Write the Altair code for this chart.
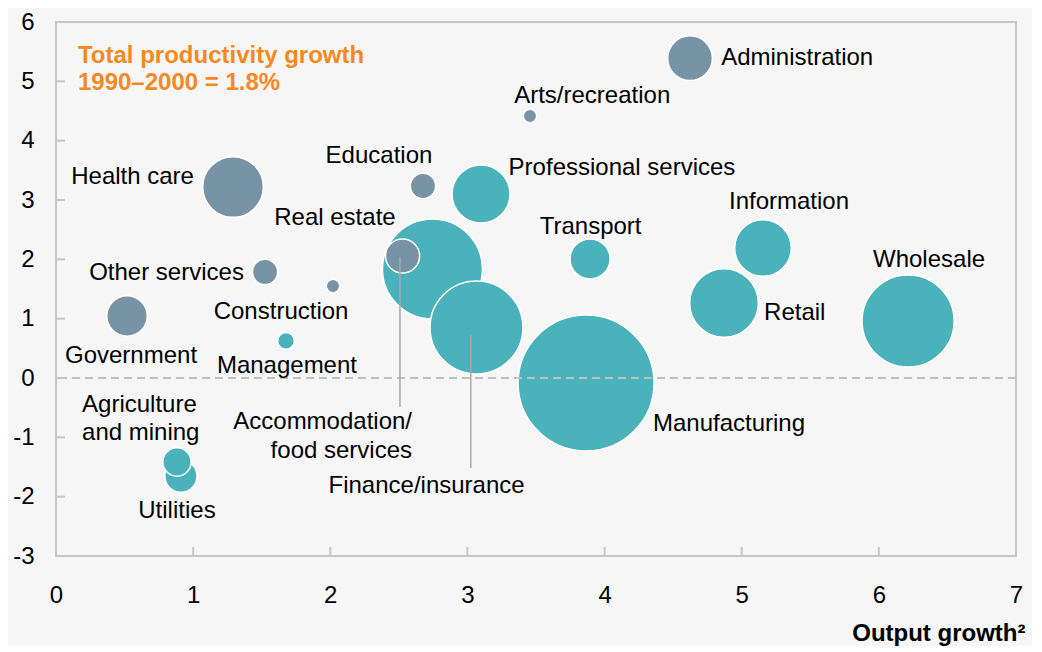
import altair as alt
import pandas as pd

# ---- data ----
sectors = ["Accommodation/food services", "Real estate", "Finance/insurance", "Manufacturing",
           "Wholesale", "Retail", "Information", "Transport", "Professional services",
           "Health care", "Administration", "Government", "Education", "Other services",
           "Arts/recreation", "Construction", "Management", "Utilities", "Agriculture and mining"]
output_growth = [2.745, 2.527, 3.066, 3.865, 6.213, 4.871, 5.155, 3.894, 3.099,
                 1.291, 4.623, 0.518, 2.676, 1.524, 3.456, 2.02, 1.677, 0.911, 0.882]
productivity_growth = [1.837, 2.056, 0.851, -0.084, 0.961, 1.264, 2.19, 2.006, 3.101,
                       3.219, 5.39, 1.045, 3.236, 1.787, 4.416, 1.55, 0.624, -1.652, -1.416]
bubble_weight = [25.0, 2.9, 21.6, 46.2, 21.2, 11.8, 8.0, 4.0, 8.4,
                 9.2, 5.0, 4.1, 1.6, 1.6, 0.45, 0.45, 0.7, 2.6, 2.0]
sector_group = ["teal", "slate", "teal", "teal", "teal", "teal", "teal", "teal", "teal",
                "slate", "slate", "slate", "slate", "slate", "slate", "slate", "teal", "teal", "teal"]

# label anchors (data units, first line of text) and alignment
label_text = ["Administration", "Arts/recreation", "Education", "Health care", "Professional services",
              "Real estate", "Transport", "Information", "Wholesale", "Other services",
              "Construction", "Retail", "Government", "Management", "Manufacturing",
              "Agriculture\nand mining", "Accommodation/\nfood services", "Finance/insurance", "Utilities"]
label_x = [4.85, 3.91, 2.355, 1.006, 4.127, 2.034, 3.898, 5.345, 6.366, 0.806,
           1.641, 5.163, 0.547, 1.684, 4.353, 0.19, 2.596, 2.702, 0.882]
label_y = [5.39, 4.75, 3.74, 3.38, 3.54, 2.70, 2.545, 2.965, 1.99, 1.77,
           1.11, 1.095, 0.37, 0.20, -0.775, -0.455, -0.742, -1.82, -2.24]
label_align = ["left", "center", "center", "right", "center", "center", "center", "center",
               "center", "center", "center", "left", "center", "center", "left", "left",
               "right", "center", "center"]

leader_x = [2.508, 3.024]
leader_top = [2.04, 0.725]
leader_bottom = [-0.49, -1.517]

x_ticks = [0, 1, 2, 3, 4, 5, 6, 7]
y_ticks = [-3, -2, -1, 0, 1, 2, 3, 4, 5, 6]
inner_x_ticks = [1, 2, 3, 4, 5, 6]
inner_y_ticks = [-2, -1, 0, 1, 2, 3, 4, 5]

note_text = ["Total productivity growth\n1990–2000 = 1.8%"]
note_x = [0.16]
note_y = [5.43]

TEAL = "#4ab2bb"
SLATE = "#7893a5"
ORANGE = "#f5891f"
GREY = "#c6c6c6"
FONT = "Liberation Sans"

bubbles_df = pd.DataFrame({
    "sector": sectors, "output": output_growth, "prod": productivity_growth,
    "weight": bubble_weight, "group": sector_group, "draw": list(range(len(sectors)))
})
labels_df = pd.DataFrame({"label": label_text, "lx": label_x, "ly": label_y, "align": label_align})
leaders_df = pd.DataFrame({"x": leader_x, "y1": leader_top, "y2": leader_bottom})

x_scale = alt.Scale(domain=[0, 7], nice=False, zero=False)
y_scale = alt.Scale(domain=[-3, 6], nice=False, zero=False)

x_axis = alt.Axis(values=x_ticks, labelExpr="toString(datum.value)", title="Output growth²",
                  titleFontSize=24, titleFontWeight="bold", titleColor="black", titleFont=FONT,
                  titleAnchor="end", titleAlign="right", titleX=969, titleY=77,
                  titleBaseline="middle",
                  labelFontSize=24, labelColor="black", labelFont=FONT, labelPadding=27,
                  labelFlush=False, labelOverlap=False, ticks=False, tickSize=0,
                  domain=False, grid=False)
y_axis = alt.Axis(values=y_ticks, labelExpr="toString(datum.value)", title=None,
                  labelFontSize=24, labelColor="black", labelFont=FONT, labelPadding=22,
                  labelFlush=False, labelOverlap=False, ticks=False, tickSize=0,
                  domain=False, grid=False)

bubbles = alt.Chart(bubbles_df).mark_circle(opacity=1, stroke="white", strokeWidth=1.5).encode(
    x=alt.X("output:Q", scale=x_scale, axis=x_axis),
    y=alt.Y("prod:Q", scale=y_scale, axis=y_axis),
    size=alt.Size("weight:Q", scale=alt.Scale(domain=[0, 46.24], range=[0, 18496]), legend=None),
    color=alt.Color("group:N", scale=alt.Scale(domain=["teal", "slate"], range=[TEAL, SLATE]), legend=None),
    order=alt.Order("draw:Q"),
)

zero_line = alt.Chart(pd.DataFrame({"y": [0]})).mark_rule(
    color="#c0c0c0", strokeWidth=2, strokeDash=[8, 5]).encode(
    y=alt.Y("y:Q", scale=y_scale))

leaders = alt.Chart(leaders_df).mark_rule(color="#a8a8a8", strokeWidth=1.5).encode(
    x=alt.X("x:Q", scale=x_scale), y=alt.Y("y1:Q", scale=y_scale), y2="y2:Q")

xt = alt.Chart(pd.DataFrame({"v": inner_x_ticks})).mark_rule(color=GREY, strokeWidth=2).encode(
    x=alt.X("v:Q", scale=x_scale), y=alt.value(534), y2=alt.value(525))
yt = alt.Chart(pd.DataFrame({"v": inner_y_ticks})).mark_rule(color=GREY, strokeWidth=2).encode(
    y=alt.Y("v:Q", scale=y_scale), x=alt.value(0), x2=alt.value(9))

text_layers = []
for a in ["left", "center", "right"]:
    text_layers.append(
        alt.Chart(labels_df).transform_filter(alt.datum.align == a).mark_text(
            align=a, baseline="middle", fontSize=24, font=FONT, color="black",
            lineBreak="\n", lineHeight=28.5).encode(
            x=alt.X("lx:Q", scale=x_scale), y=alt.Y("ly:Q", scale=y_scale), text="label:N"))

note = alt.Chart(pd.DataFrame({"t": note_text, "x": note_x, "y": note_y})).mark_text(
    align="left", baseline="middle", fontSize=24, fontWeight="bold", font=FONT, color=ORANGE,
    lineBreak="\n", lineHeight=27).encode(
    x=alt.X("x:Q", scale=x_scale), y=alt.Y("y:Q", scale=y_scale), text="t:N")

chart = alt.layer(bubbles, zero_line, leaders, xt, yt, *text_layers, note).properties(
    width=960, height=534,
    autosize=alt.AutoSizeParams(type="none"),
    padding={"left": 48, "top": 14, "right": 16, "bottom": 90},
).configure(background="#f6f6f6").configure_view(stroke=GREY, strokeWidth=2)

chart.save("out.html", embed_options={"renderer": "svg", "actions": False})
